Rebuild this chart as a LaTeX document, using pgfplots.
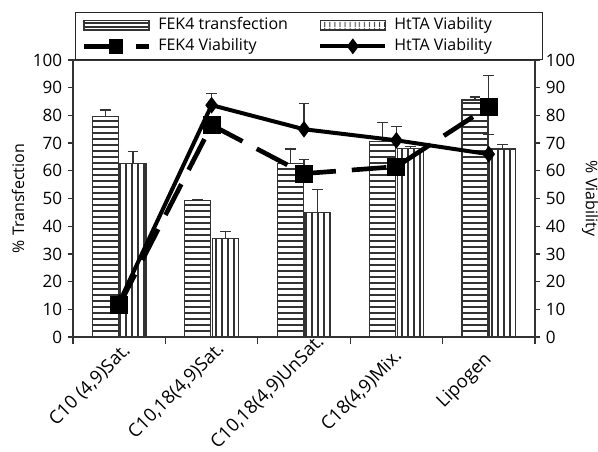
\documentclass[12pt,border=0pt]{standalone}
\usepackage{fontspec}
\setmainfont{Open Sans}
\usepackage{pgfplots}
\usepackage{pgfplotstable}
\pgfplotsset{compat=1.18}
\usetikzlibrary{patterns.meta}

\pgfplotstableread{
x y e
0 79.5 2.5
1 49.2 0.5
2 62.7 5.2
3 70.5 6.9
4 85.6 1.1
}\fekT
\pgfplotstableread{
x y e
0 62.7 4.3
1 35.6 2.4
2 45.0 8.3
3 68.0 0.8
4 67.9 1.7
}\httaB
\pgfplotstableread{
x y e
0 11.5 0
1 76.5 0
2 59.0 5.0
3 61.5 0
4 83.2 11.1
}\fekV
\pgfplotstableread{
x y e
0 12.5 0
1 83.7 4.3
2 75.0 9.4
3 71.0 5.0
4 66.0 7.0
}\httaV

\begin{document}
\begin{tikzpicture}
\pgfplotsset{
  base/.style={
    scale only axis, width=346.5pt, height=207.75pt,
    at={(0,0)}, anchor=south west,
    xmin=-0.5, xmax=4.5, ymin=0, ymax=100,
    ytick={0,10,...,100},
    axis line style={black!80, line width=1.1pt},
    tick style={black!80, line width=1pt},
    tick align=outside, major tick length=4pt, minor tick length=5pt,
    /pgf/number format/assume math mode=true,
    tick label style={font=\fontsize{12.8}{14}\selectfont},
    label style={font=\fontsize{12.5}{14}\selectfont},
  },
  errs/.style={error bars/.cd, y dir=plus, y explicit,
    error bar style={line width=1pt, black!80, solid},
    error mark options={rotate=90, mark size=4pt, line width=1pt, black!80, solid}},
}
\begin{axis}[base,
  ybar=1.2pt, bar width=19.5pt,
  ytick pos=left, xtick pos=left,
  xtick={0,1,2,3,4},
  xticklabels={{C10 (4,9)Sat.},{C10,18(4,9)Sat.},{C10,18(4,9)UnSat.},{C18(4,9)Mix.},{Lipogen}},
  major x tick style={draw=none},
  minor xtick={-0.5,0.5,1.5,2.5,3.5,4.5},
  xticklabel style={rotate=45, anchor=north east, inner sep=1pt,
    font=\fontsize{13.8}{15}\selectfont, xshift={{2.5,4,12,-3.5,-6.5}[\ticknum]*1pt}},
  ylabel={\% Transfection},
  every axis y label/.style={at={(axis description cs:-0.119,0.5)}, rotate=90, anchor=center},
]
\addplot[draw=black!80, line width=1pt,
  pattern={Lines[angle=0,distance=4.5pt,line width=0.9pt]}, pattern color=black!80, errs]
  table[x=x, y=y, y error=e]{\fekT};
\addplot[draw=black!80, line width=1pt,
  pattern={Lines[angle=90,distance=4.5pt,line width=0.9pt]}, pattern color=black!80, errs]
  table[x=x, y=y, y error=e]{\httaB};
\end{axis}

\begin{axis}[base,
  axis y line*=right, hide x axis,
  ytick pos=right,
  ylabel={\% Viability},
  every axis y label/.style={at={(axis description cs:1.119,0.5)}, rotate=-90, anchor=center},
  legend columns=2,
  legend cell align=left,
  legend style={at={(0,1)}, anchor=south west, xshift=1.5pt,
    draw=black!85, line width=1pt,
    inner xsep=4.5pt, inner ysep=4pt, row sep=4.25pt,
    font=\fontsize{12}{14}\selectfont,
    nodes={inner xsep=2pt, inner ysep=0pt, text height=9pt, text depth=2.5pt},
    /tikz/every odd column/.style={column sep=3.25pt},
    /tikz/every even column/.style={column sep=13.5pt}},
]
\addlegendimage{legend image code/.code={
  \draw[black!80, line width=1pt, pattern={Lines[angle=0,distance=3pt,line width=0.9pt]}, pattern color=black!80]
    (0pt,-3.5pt) rectangle (48.75pt,3.5pt);}}
\addlegendentry{\makebox[104.5pt][l]{FEK4 transfection}}
\addlegendimage{legend image code/.code={
  \draw[black!80, line width=1pt, pattern={Lines[angle=90,distance=4pt,line width=0.9pt]}, pattern color=black!80]
    (0pt,-3.5pt) rectangle (48.75pt,3.5pt);}}
\addlegendentry{\makebox[104.5pt][l]{HtTA Viability}}

\addplot[black, line width=3.5pt, dash pattern=on 26pt off 12pt,
  mark=square*, mark size=5pt, mark options={solid},
  legend image code/.code={
    \draw[black, line width=3.5pt, solid] (0pt,0pt) -- (28.5pt,0pt);
    \draw[black, line width=3.5pt, solid] (39pt,0pt) -- (48.75pt,0pt);
    \path[black, mark=square*, mark size=3.75pt, mark options={solid, fill=black}] plot coordinates {(24pt,0pt)};},
  errs]
  table[x=x, y=y, y error=e]{\fekV};
\addlegendentry{FEK4 Viability}

\addplot[black, line width=3pt, solid,
  mark=diamond*, mark size=3.8pt, mark options={solid},
  legend image code/.code={
    \draw[black, line width=3pt, solid] (0pt,0pt) -- (48.75pt,0pt);
    \path[black, mark=diamond*, mark size=3.5pt, mark options={solid, fill=black}] plot coordinates {(24.4pt,0pt)};},
  errs]
  table[x=x, y=y, y error=e]{\httaV};
\addlegendentry{HtTA Viability}
\end{axis}
\pgfresetboundingbox
\path[use as bounding box] (-54.75pt,-85.5pt) rectangle (393.75pt,252.75pt);
\end{tikzpicture}
\end{document}
